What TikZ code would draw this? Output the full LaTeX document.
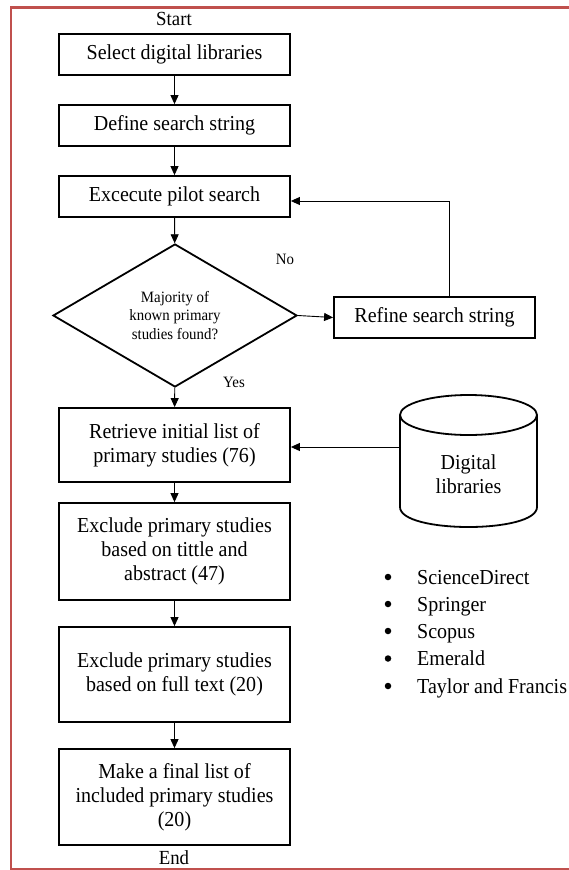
\documentclass[tikz,border=0pt]{standalone}
\usepackage{fontspec}
\setmainfont{Liberation Serif}[FakeStretch=0.94]
\usetikzlibrary{arrows.meta,shapes.geometric}
\definecolor{frame}{RGB}{192,80,77}
\begin{document}
\begin{tikzpicture}[x=1bp,y=-1bp,
  box/.style={draw, line width=1.8bp, minimum width=231bp, inner sep=2bp, align=center,
    font=\fontsize{21.3bp}{24bp}\selectfont},
  big/.style={font=\fontsize{21.3bp}{24.5bp}\selectfont, align=center, inner sep=0pt},
  lab/.style={font=\fontsize{15.8bp}{18.5bp}\selectfont, align=center, inner sep=0pt},
  arr/.style={line width=0.9bp, -{Triangle[length=9bp,width=8bp]}},
  thick line/.style={line width=1.8bp},
  dotmark/.style={circle, fill, inner sep=0pt, minimum size=6.5bp},
]
\useasboundingbox (0,0) rectangle (569,870);
% frame
\draw[frame, line width=2.2bp] (569,7.5) -- (11,7.5) -- (11,868.8) -- (569,868.8);

% main column
\node[big, font=\fontsize{20bp}{22bp}\selectfont] (start) at (174,19) {Start};
\node[box, minimum height=41bp] (b1) at (174.5,54.5) {Select digital libraries};
\node[box, minimum height=41bp] (b2) at (174.5,125.5) {Define search string};
\node[box, minimum height=41bp] (b3) at (174.5,196.5) {Excecute pilot search};
\node[diamond, draw, thick line, lab, aspect=1.7, minimum width=244bp, minimum height=143bp]
  (dia) at (175,315.5) {Majority of\\known primary\\studies found?};
\node[box, minimum width=201bp, minimum height=41bp] (ref) at (434.5,317.5) {Refine search string};
\node[box, minimum height=74bp] (ret) at (174.5,445) {Retrieve initial list of\\primary studies (76)};
\node[box, minimum height=97bp] (ex1) at (174.5,551.5) {Exclude primary studies\\based on tittle and\\abstract (47)};
\node[box, minimum height=95bp] (ex2) at (174.5,674.5) {Exclude primary studies\\based on full text (20)};
\node[box, minimum height=96bp] (fin) at (174.5,797) {Make a final list of\\included primary studies\\(20)};
\node[big, font=\fontsize{20bp}{22bp}\selectfont] (end) at (174,857.5) {End};

% labels
\node[lab] (no) at (285,259) {No};
\node[lab] (yes) at (234,382) {Yes};

% cylinder
\draw[thick line] (400,415) -- (400,507) .. controls (400,533.67) and (537,533.67) .. (537,507) -- (537,415);
\draw[thick line] (468.5,415) ellipse [x radius=68.5bp, y radius=20bp];
\node[big] (cyl) at (468.5,474) {Digital\\libraries};
\coordinate (cylw) at (400,447);

% connectors
\draw[arr] (b1) -- (b2);
\draw[arr] (b2) -- (b3);
\draw[arr] (b3) -- (dia);
\draw[arr] (dia.east) -- (ref.west);
\draw[arr] (dia) -- (ret);
\draw[arr] (ret) -- (ex1);
\draw[arr] (ex1) -- (ex2);
\draw[arr] (ex2) -- (fin);
\coordinate (fb) at (449,201);
\draw[arr] (fb |- ref.north) -- (fb) -- (fb -| b3.east);
\draw[arr] (cylw) -- (cylw -| ret.east);

% list
\foreach \y/\t [count=\i] in {584/ScienceDirect, 611/Springer, 638/Scopus, 665.5/Emerald, 693/Taylor and Francis}{
  \node[dotmark] (dot\i) at (388,\y-7) {};
  \node[big, anchor=base west] (item\i) at (417,\y) {\t};
}
\end{tikzpicture}
\end{document}
